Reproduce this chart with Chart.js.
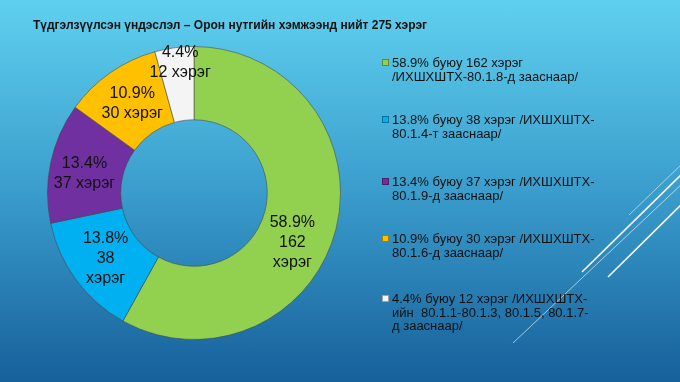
<!DOCTYPE html>
<html>
<head>
<meta charset="utf-8">
<script src="https://cdn.jsdelivr.net/npm/chart.js@4.4.1/dist/chart.umd.min.js"></script>
<style>
html,body{margin:0;padding:0;width:680px;height:382px;overflow:hidden;}
body{position:relative;font-family:"Liberation Sans",Arial,sans-serif;
  background:linear-gradient(180deg,#5fd0ef 0%,#3a9dcc 50%,#17609b 100%);}
#deco{position:absolute;left:0;top:0;}
#chart{position:absolute;left:0;top:0;}
#title{position:absolute;left:33px;top:17px;font-weight:bold;font-size:12px;line-height:16px;color:#111;white-space:nowrap;}
#legend{position:absolute;left:382px;top:0;width:290px;height:382px;}
.item{position:absolute;left:0;font-size:13px;line-height:13.7px;color:#111;padding-left:10px;white-space:pre;}
.sw{position:absolute;left:0;top:3px;width:5px;height:5px;border:0.5px solid rgba(0,0,0,0.35);}
</style>
</head>
<body>
<svg id="deco" width="680" height="382">
  <line x1="629" y1="215" x2="684" y2="162" stroke="rgba(255,255,255,0.55)" stroke-width="1"/>
  <line x1="582" y1="272" x2="684" y2="172" stroke="rgba(255,255,255,0.95)" stroke-width="1.6"/>
  <line x1="513" y1="343" x2="684" y2="182" stroke="rgba(255,255,255,0.6)" stroke-width="1"/>
  <line x1="608" y1="277" x2="684" y2="202" stroke="rgba(255,255,255,0.95)" stroke-width="1.6"/>
</svg>
<canvas id="chart" width="680" height="382"></canvas>
<div id="title"></div>
<div id="legend"></div>
<script>
// ---- data ----
const titleText = "Түдгэлзүүлсэн үндэслэл – Орон нутгийн хэмжээнд нийт 275 хэрэг";
const categories = [
  "58.9% буюу 162 хэрэг /ИХШХШТХ-80.1.8-д зааснаар/",
  "13.8% буюу 38 хэрэг /ИХШХШТХ-80.1.4-т зааснаар/",
  "13.4% буюу 37 хэрэг /ИХШХШТХ-80.1.9-д зааснаар/",
  "10.9% буюу 30 хэрэг /ИХШХШТХ-80.1.6-д зааснаар/",
  "4.4% буюу 12 хэрэг /ИХШХШТХ-ийн  80.1.1-80.1.3, 80.1.5, 80.1.7-д зааснаар/"
];
const legendLines = [
  ["58.9% буюу 162 хэрэг", "/ИХШХШТХ-80.1.8-д зааснаар/"],
  ["13.8% буюу 38 хэрэг /ИХШХШТХ-", "80.1.4-т зааснаар/"],
  ["13.4% буюу 37 хэрэг /ИХШХШТХ-", "80.1.9-д зааснаар/"],
  ["10.9% буюу 30 хэрэг /ИХШХШТХ-", "80.1.6-д зааснаар/"],
  ["4.4% буюу 12 хэрэг /ИХШХШТХ-", "ийн  80.1.1-80.1.3, 80.1.5, 80.1.7-", "д зааснаар/"]
];
const counts = [162, 38, 37, 30, 12];
const percents = ["58.9%", "13.8%", "13.4%", "10.9%", "4.4%"];
const labelLines = [
  ["58.9%", "162", "хэрэг"],
  ["13.8%", "38", "хэрэг"],
  ["13.4%", "37 хэрэг"],
  ["10.9%", "30 хэрэг"],
  ["4.4%", "12 хэрэг"]
];

// ---- styles ----
const colors = ["#92d050", "#00b0f0", "#7030a0", "#ffc000", "#f4f4f4"];
const labelShift = [[-8, 22], [0, 0], [-2, 3], [1, 1], [1, -22]];
const legendTops = [56, 113, 175, 232, 292];

document.getElementById('title').textContent = titleText;
const leg = document.getElementById('legend');
legendLines.forEach((lines, i) => {
  const d = document.createElement('div');
  d.className = 'item';
  d.style.top = legendTops[i] + 'px';
  d.textContent = lines.join('\n');
  const s = document.createElement('span');
  s.className = 'sw';
  s.style.background = colors[i];
  d.appendChild(s);
  leg.appendChild(d);
});

const labelPlugin = {
  id: 'sliceLabels',
  afterDatasetsDraw(chart) {
    const ctx = chart.ctx;
    const meta = chart.getDatasetMeta(0);
    ctx.save();
    ctx.font = '16px "Liberation Sans", Arial, sans-serif';
    ctx.fillStyle = '#111';
    ctx.textAlign = 'center';
    ctx.textBaseline = 'middle';
    meta.data.forEach((arc, i) => {
      const p = arc.getProps(['x', 'y', 'startAngle', 'endAngle', 'innerRadius', 'outerRadius'], true);
      const a = (p.startAngle + p.endAngle) / 2;
      const r = (p.innerRadius + p.outerRadius) / 2;
      const cx = p.x + Math.cos(a) * r + labelShift[i][0];
      const cy = p.y + Math.sin(a) * r + labelShift[i][1];
      const lines = labelLines[i];
      const lh = 20;
      lines.forEach((t, k) => {
        ctx.fillText(t, cx, cy + (k - (lines.length - 1) / 2) * lh);
      });
    });
    ctx.restore();
  }
};

new Chart(document.getElementById('chart'), {
  type: 'doughnut',
  data: {
    labels: categories,
    datasets: [{
      data: counts,
      backgroundColor: colors,
      borderColor: 'rgba(70,70,70,0.55)',
      borderWidth: 1
    }]
  },
  options: {
    responsive: false,
    animation: false,
    cutout: '50%',
    layout: { padding: { left: 47, top: 46, right: 339, bottom: 42 } },
    plugins: { legend: { display: false }, tooltip: { enabled: false }, title: { display: false } }
  },
  plugins: [labelPlugin]
});
</script>
</body>
</html>
